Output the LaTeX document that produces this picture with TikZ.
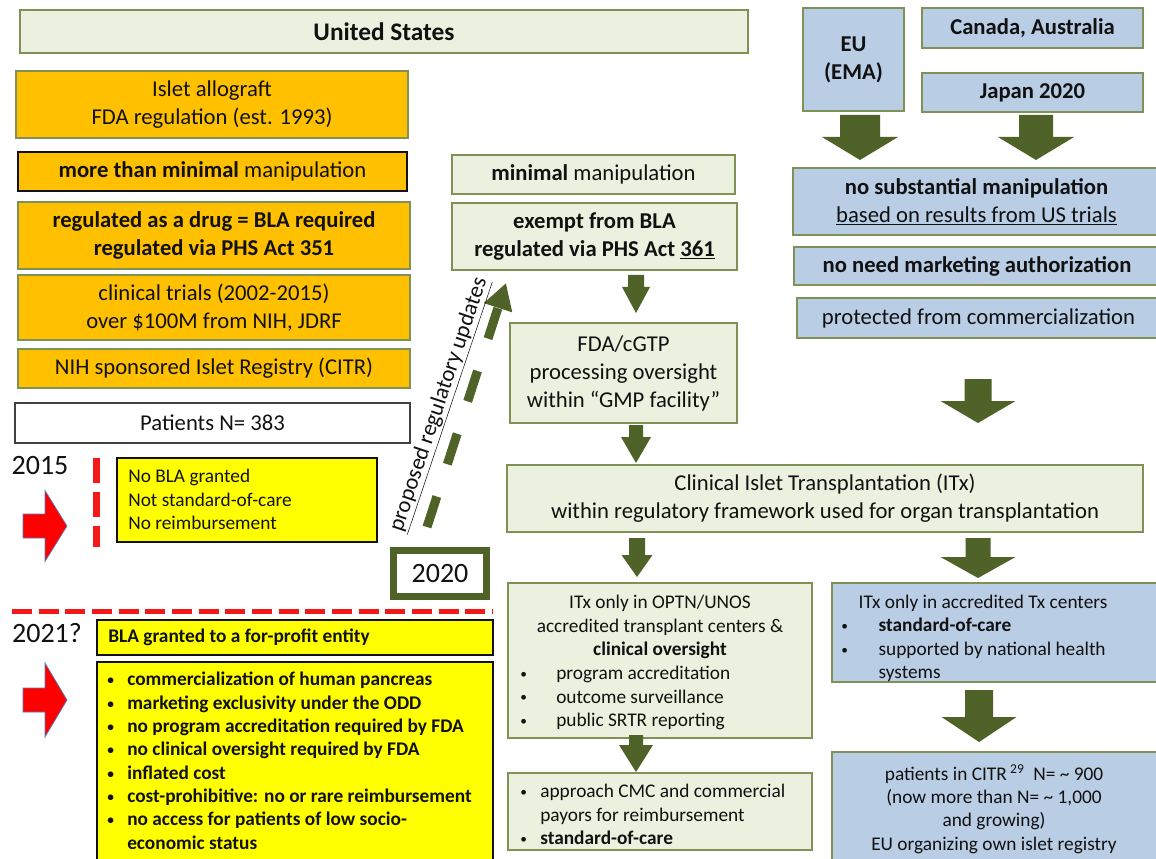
\documentclass[tikz,border=0pt]{standalone}
\usepackage{fontspec}
\setmainfont{Carlito}
\usetikzlibrary{arrows.meta}
\definecolor{bord}{HTML}{7F9155}
\definecolor{lgr}{HTML}{EBF1DE}
\definecolor{lblue}{HTML}{B9CDE5}
\definecolor{org}{HTML}{FFC000}
\definecolor{ylw}{HTML}{FFFF00}
\definecolor{oliv}{HTML}{4F6228}
\definecolor{txt}{HTML}{111111}
\definecolor{rarr}{HTML}{FF0000}
\definecolor{redline}{HTML}{F41818}
\definecolor{arrb}{HTML}{4F81BD}
\definecolor{darkg}{HTML}{404040}
\newcommand\fa{\fontsize{17}{21}\selectfont}
\newcommand\fb{\fontsize{14.5}{17.5}\selectfont}
\newcommand\fc{\fontsize{21}{25}\selectfont}
\newcommand\bdot{\raisebox{0.12ex}{\fontsize{10}{10}\selectfont •}}
\newcommand\bi{\makebox[15pt][l]{\bdot}}
\newcommand\bx{\makebox[15pt][l]{}}
\newcommand\garr[6]{\fill[oliv] ({#1-#5},#2) -- ({#1+#5},#2) -- ({#1+#5},#3) -- ({#1+#6},#3) -- (#1,#4) -- ({#1-#6},#3) -- ({#1-#5},#3) -- cycle;}
\newcommand\rarrow[2]{\draw[fill=rarr, draw=arrb, line width=0.5pt] (23,{#1-12}) -- (45,{#1-12}) -- (45,{#1-#2}) -- (67,#1) -- (45,{#1+#2}) -- (45,{#1+12}) -- (23,{#1+12}) -- cycle;}
\tikzset{
  rect/.style n args={4}{minimum width={(#3-#1)*0.75pt}, minimum height={(#4-#2)*0.75pt}, at={({(#1+#3)/2},{(#2+#4)/2})}},
  box/.style={draw=bord, line width=0.9pt, inner sep=0pt, align=center, font=\fa, text=txt},
  lg/.style={box, fill=lgr},
  bl/.style={box, fill=lblue},
  og/.style={box, fill=org},
  yl/.style={box, fill=ylw, draw=txt, line width=0.8pt},
  plain/.style={inner sep=0pt, align=left, font=\fb, text=txt}
}
\begin{document}
\begin{tikzpicture}[x=0.75pt,y=-0.75pt]
\useasboundingbox (0,0) rectangle (1156,859);
\fill[white] (0,0) rectangle (1156,859);

% ---------- United States column ----------
\node[lg, font=\fontsize{19}{23}\selectfont\bfseries, rect={20}{10}{748}{53}] (us) {United States};
\node[og, rect={16}{71}{408}{138}] (islet) {Islet allograft\\FDA regulation (est. 1993)};
\node[og, draw=txt, rect={18}{152}{407}{191}] (mtm) {\textbf{more than minimal} manipulation};
\node[og, font=\fa\bfseries, rect={18}{202}{410}{269}] (drug) {regulated as a drug = BLA required\\regulated via PHS Act 351};
\node[og, rect={18}{275}{410}{340}] (trials) {clinical trials (2002-2015)\\over \$100M from NIH, JDRF};
\node[og, rect={18}{349}{410}{388}] (nih) {NIH sponsored Islet Registry (CITR)};
\node[box, fill=white, draw=darkg, rect={15}{403}{410}{443}] (pat) {Patients N= 383};

% 2015
\node[font=\fc, inner sep=0pt, text=txt] (t2015) at (40,466) {2015};
\rarrow{526}{35.5}
\draw[redline, line width=5.25pt, dash pattern=on 18.75pt off 6.75pt] (96.5,458) -- (96.5,547);
\node[yl, rect={117}{458}{377}{542}] (nobla) {};
\node[plain, anchor=north west] (noblat) at (128,469) {No BLA granted\\Not standard-of-care\\No reimbursement};

% 2020 and proposed updates
\node[box, fill=white, draw=oliv, line width=5.25pt, font=\fc, rect={393.5}{550.5}{486.5}{596.5}] (y2020) {2020};
\coordinate (ds) at (427,527);
\coordinate (de) at (506,283);
\draw[oliv, line width=6.75pt, dash pattern=on 24pt off 25.5pt, -{Triangle[length=19.5pt,width=21pt]}] (ds) -- (de);
\node[font=\fa, rotate=71.4, inner sep=0pt, text=txt] (prop) at (440,405) {\underline{proposed regulatory updates}};

% divider
\draw[redline, line width=3.75pt, dash pattern=on 15pt off 5pt] (12,611) -- (493,611);

% 2021
\node[font=\fc, inner sep=0pt, text=txt] (t2021) at (47,633) {2021?};
\rarrow{700}{37}
\node[yl, rect={97}{620}{493}{655}] (blag) {};
\node[plain, font=\fb\bfseries, anchor=west] (blagt) at (108,637) {BLA granted to a for-profit entity};
\node[yl, rect={97}{662}{493}{866}] (bul) {};
\node[plain, font=\fb\bfseries, anchor=north west] (bult) at (107,672) {\bi commercialization of human pancreas\\
\bi marketing exclusivity under the ODD\\
\bi no program accreditation required by FDA\\
\bi no clinical oversight required by FDA\\
\bi inflated cost\\
\bi cost-prohibitive: no or rare reimbursement\\
\bi no access for patients of low socio-\\
\bx economic status};

% ---------- middle column ----------
\node[lg, rect={452}{155}{735}{194}] (minm) {\textbf{minimal} manipulation};
\node[lg, font=\fa\bfseries, rect={452}{203}{737}{270}] (exempt) {exempt from BLA\\regulated via PHS Act \underline{361}};
\garr{636}{275}{287}{313}{8}{14}
\node[lg, rect={510}{323}{737}{423}] (fda) {FDA/cGTP\\processing oversight\\within “GMP facility”};
\garr{636}{425}{437}{463}{7}{15}
\node[lg, rect={507}{465}{1143}{532}] (clin) {Clinical Islet Transplantation (ITx)\\within regulatory framework used for organ transplantation};
\garr{637}{538}{555}{577}{8}{15.5}
\node[lg, rect={508}{583}{812}{738}] (optn) {};
\node[plain, align=center, anchor=north] (optnt) at (660,595) {ITx only in OPTN/UNOS\\accredited transplant centers \&\\\textbf{clinical oversight}};
\node[plain, anchor=north west] (optnb) at (520,666) {\makebox[27pt][l]{\bdot}program accreditation\\\makebox[27pt][l]{\bdot}outcome surveillance\\\makebox[27pt][l]{\bdot}public SRTR reporting};
\garr{636}{735}{745}{772}{7}{17}
\node[lg, rect={508}{773}{812}{850}] (appr) {};
\node[plain, anchor=north west] (apprt) at (520,784) {\bi approach CMC and commercial\\\bx payors for reimbursement\\\bi \textbf{standard-of-care}};

% ---------- right column ----------
\node[bl, font=\fa\bfseries, rect={803}{8}{904}{111}] (eu) {EU\\(EMA)};
\node[bl, font=\fa\bfseries, rect={922}{8}{1143}{48}] (can) {Canada, Australia};
\node[bl, font=\fa\bfseries, rect={922}{73}{1143}{112}] (jap) {Japan 2020};
\garr{860}{115}{137}{160}{20}{38}
\garr{1036}{115}{137}{160}{17}{38}
\node[bl, rect={793}{168}{1160}{235}] (nosub) {\textbf{no substantial manipulation}\\\underline{based on results from US trials}};
\node[bl, font=\fa\bfseries, rect={794}{247}{1160}{285}] (noneed) {no need marketing authorization};
\node[bl, rect={797}{298}{1160}{338}] (prot) {protected from commercialization};
\garr{978}{379}{401}{423}{13.5}{37.5}
\garr{978}{538}{557}{578}{12.5}{37.5}
\node[bl, rect={832}{583}{1160}{682}] (acc) {};
\node[plain] (acct) at (983,603) {ITx only in accredited Tx centers};
\node[plain, anchor=north west] (accb) at (841,618) {\makebox[28pt][l]{\bdot}\textbf{standard-of-care}\\\makebox[28pt][l]{\bdot}supported by national health\\\makebox[28pt][l]{}systems};
\garr{979}{690}{717}{742}{14}{37.5}
\node[bl, rect={832}{752}{1160}{866}] (citr) {};
\node[plain, align=center, anchor=north] (citrt) at (994,764) {patients in CITR\,\textsuperscript{29}\ \ N= \textasciitilde{} 900\\(now more than N= \textasciitilde{} 1,000\\and growing)\\EU organizing own islet registry};
\end{tikzpicture}
\end{document}
